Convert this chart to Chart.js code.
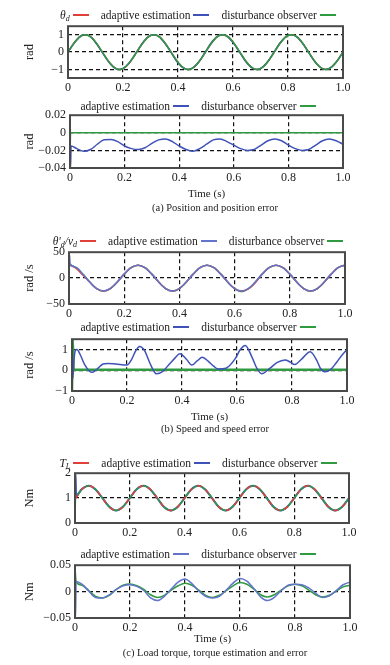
<!DOCTYPE html>
<html>
<head>
<meta charset="utf-8">
<script src="https://cdn.jsdelivr.net/npm/chart.js@4.4.1/dist/chart.umd.min.js"></script>
<style>
  body { margin: 0; background: #fff; width: 390px; height: 665px; position: relative; overflow: hidden;
         font-family: "Liberation Serif", serif; color: #222; }
  canvas { position: absolute; left: 0; }
  .legend { position: absolute; left: 0; width: 396px; display: flex; justify-content: center;
            font-size: 11.5px; line-height: 12px; white-space: nowrap; z-index: 2; }
  .legend .item { display: inline-flex; align-items: center; margin: 0 6px; }
  .legend .ln { display: inline-block; width: 16px; height: 2px; margin-left: 3px; }
  .legend sub { font-size: 8px; line-height: 0; vertical-align: -2px; }
  .caption { position: absolute; left: 0; width: 430px; text-align: center; font-size: 10.5px; line-height: 12px; z-index: 2; }
</style>
</head>
<body>
<canvas id="pos" width="390" height="83" style="top:15px"></canvas>
<canvas id="posErr" width="390" height="101" style="top:104px"></canvas>
<canvas id="spd" width="390" height="83" style="top:241px"></canvas>
<canvas id="spdErr" width="390" height="100" style="top:328px"></canvas>
<canvas id="trq" width="390" height="81" style="top:462px"></canvas>
<canvas id="trqErr" width="390" height="96" style="top:554px"></canvas>
<div class="caption" style="top:202px">(a) Position and position error</div>
<div class="caption" style="top:423px">(b) Speed and speed error</div>
<div class="caption" style="top:647px">(c) Load torque, torque estimation and error</div>

<script>
// time grid (s) for the sine-like plots
var t = [0, 0.002, 0.004, 0.025, 0.05, 0.075, 0.1, 0.125, 0.15, 0.175, 0.2, 0.225, 0.25, 0.275, 0.3, 0.325, 0.35, 0.375, 0.4, 0.425, 0.45, 0.475, 0.5, 0.525, 0.55, 0.575, 0.6, 0.625, 0.65, 0.675, 0.7, 0.725, 0.75, 0.775, 0.8, 0.825, 0.85, 0.875, 0.9, 0.925, 0.95, 0.975, 1.0];

// (a) position (rad)
var posTicks = [-1, 0, 1];
var posRef   = [0.03, 0.06, 0.1, 0.59, 0.96, 0.96, 0.59, 0, -0.59, -0.96, -0.96, -0.59, 0, 0.59, 0.96, 0.96, 0.59, 0, -0.59, -0.96, -0.96, -0.59, 0, 0.59, 0.96, 0.96, 0.59, 0, -0.59, -0.96, -0.96, -0.59, 0, 0.59, 0.96, 0.96, 0.59, 0, -0.59, -0.96, -0.96, -0.59, 0];
var posAdapt = [0.03, 0.06, 0.1, 0.57, 0.96, 0.95, 0.56, -0.03, -0.6, -0.97, -0.95, -0.57, 0.02, 0.62, 0.97, 0.95, 0.56, -0.03, -0.63, -0.97, -0.95, -0.57, 0.02, 0.63, 0.97, 0.94, 0.55, -0.03, -0.62, -0.97, -0.95, -0.57, 0.02, 0.61, 0.97, 0.95, 0.57, -0.02, -0.6, -0.96, -0.95, -0.58, 0];
var posObs   = [0.03, 0.06, 0.1, 0.59, 0.96, 0.96, 0.59, 0, -0.59, -0.96, -0.96, -0.58, 0, 0.59, 0.96, 0.96, 0.59, 0, -0.59, -0.96, -0.96, -0.59, 0, 0.59, 0.96, 0.96, 0.59, 0, -0.59, -0.96, -0.96, -0.59, 0, 0.59, 0.96, 0.96, 0.59, 0, -0.59, -0.96, -0.96, -0.59, 0];

// (a) position error (rad)
var posErrTicks = [-0.04, -0.02, 0, 0.02];
var posErrAdapt = [-0.04, -0.04, -0.015, -0.018, -0.021, -0.019, -0.013, -0.008, -0.0075, -0.01, -0.015, -0.018, -0.019, -0.017, -0.012, -0.008, -0.007, -0.01, -0.015, -0.019, -0.021, -0.018, -0.013, -0.008, -0.007, -0.01, -0.014, -0.018, -0.02, -0.019, -0.014, -0.009, -0.007, -0.009, -0.014, -0.018, -0.02, -0.019, -0.014, -0.009, -0.007, -0.009, -0.013];
var posErrObs   = [-0.04, 0, 0, 0, 0, 0, 0, 0, 0, 0, 0, 0, 0, 0, 0, 0, 0, 0, 0, 0, 0, 0, 0, 0, 0, 0, 0, 0, 0, 0, 0, 0, 0, 0, 0, 0, 0, 0, 0, 0, 0, 0, 0];

// (b) speed (rad/s)
var spdTicks = [-50, 0, 50];
var spdRef   = [25, 25, 24.9, 19, 6, -7.7, -20.2, -25, -20.2, -7.7, 7.7, 20.2, 25, 20.2, 7.7, -7.7, -20.2, -25, -20.2, -7.7, 7.7, 20.2, 25, 20.2, 7.7, -7.7, -20.2, -25, -21, -9, 7.7, 20.2, 25, 20.2, 7.7, -7.7, -20.2, -25, -20.2, -7.7, 7.7, 20.2, 25];
var spdAdapt = [-45, 45, 28, 21, 7.7, -7.7, -20.5, -25, -20, -7.5, 7.7, 20.2, 25, 20.2, 7.7, -7.7, -20.2, -25, -20.2, -7.7, 7.7, 20.2, 25, 20.2, 7.7, -7.7, -20.2, -25, -20.2, -7.7, 7.7, 20.2, 25, 20.2, 7.7, -7.7, -20.2, -25, -20.2, -7.7, 7.7, 20.2, 25];
var spdObs   = [25, 25, 24.9, 20.2, 7.7, -7.7, -20.2, -25, -20.2, -7.7, 7.7, 20.2, 25, 20.2, 7.7, -7.7, -20.2, -25, -20.2, -7.7, 7.7, 20.2, 25, 20.2, 7.7, -7.7, -20.2, -26, -20.2, -7.7, 7.7, 20.2, 25, 20.2, 7.7, -7.7, -20.2, -25, -20.2, -7.7, 7.7, 20.2, 25];

// (b) speed error (rad/s), own time points
var spdErrTicks = [-1, 0, 1];
var tSpd = [0, 0.003, 0.006, 0.012, 0.018, 0.03, 0.045, 0.064, 0.072, 0.09, 0.113, 0.13, 0.16, 0.2, 0.216, 0.232, 0.246, 0.264, 0.283, 0.307, 0.33, 0.356, 0.375, 0.392, 0.417, 0.435, 0.455, 0.474, 0.496, 0.515, 0.532, 0.56, 0.593, 0.612, 0.63, 0.654, 0.672, 0.69, 0.72, 0.745, 0.775, 0.793, 0.81, 0.836, 0.866, 0.89, 0.903, 0.92, 0.94, 0.963, 0.98, 1.0];
var spdErrAdapt = [0, -0.4, 0.3, 0.95, 1.0, 0.75, 0.3, -0.05, -0.1, 0.05, 0.3, 0.33, 0.3, 0.25, 0.5, 0.95, 1.15, 0.95, 0.35, -0.17, -0.05, 0.33, 0.6, 0.8, 0.52, 0.25, 0.45, 0.63, 0.43, 0.2, 0.06, 0.1, 0.55, 1.0, 1.2, 0.65, 0.1, -0.17, 0.1, 0.37, 0.5, 0.4, 0.28, 0.55, 0.9, 0.48, 0.1, -0.07, 0.03, 0.4, 0.7, 1.0];
var spdErrObs   = [-1, 1.5, 0.02, 0.02, 0.02, 0.02, 0.02, 0.02, 0.02, 0.02, 0.02, 0.02, 0.02, 0.02, 0.02, 0.02, 0.02, 0.02, 0.02, 0.02, 0.02, 0.02, 0.02, 0.02, 0.02, 0.02, 0.02, 0.02, 0.02, 0.02, 0.02, 0.02, 0.02, 0.02, 0.02, 0.02, 0.02, 0.02, 0.02, 0.02, 0.02, 0.02, 0.02, 0.02, 0.02, 0.02, 0.02, 0.02, 0.02, 0.02, 0.02, 0.02];

// (c) load torque (Nm)
var trqTicks = [0, 1, 2];
var trqRef   = [1, 1.01, 1.02, 1.354, 1.5, 1.354, 1, 0.646, 0.5, 0.646, 1, 1.354, 1.5, 1.354, 1, 0.646, 0.5, 0.646, 1, 1.354, 1.5, 1.354, 1, 0.646, 0.5, 0.646, 1, 1.354, 1.5, 1.354, 1, 0.646, 0.5, 0.646, 1, 1.354, 1.5, 1.354, 1, 0.646, 0.5, 0.646, 1];
var trqAdapt = [2, 2, 1.1, 1.36, 1.5, 1.35, 1, 0.65, 0.5, 0.65, 1, 1.36, 1.5, 1.35, 1, 0.64, 0.5, 0.65, 1, 1.36, 1.5, 1.35, 1, 0.64, 0.5, 0.65, 1, 1.36, 1.5, 1.35, 1, 0.64, 0.5, 0.65, 1, 1.36, 1.5, 1.35, 1, 0.64, 0.5, 0.65, 1];
var trqObs   = [0, 1.05, 1.06, 1.354, 1.5, 1.354, 1, 0.646, 0.5, 0.646, 1, 1.354, 1.5, 1.354, 1, 0.646, 0.5, 0.646, 1, 1.354, 1.5, 1.354, 1, 0.646, 0.5, 0.646, 1, 1.354, 1.5, 1.354, 1, 0.646, 0.5, 0.646, 1, 1.354, 1.5, 1.354, 1, 0.646, 0.5, 0.646, 1];

// (c) torque error (Nm)
var trqErrTicks = [-0.05, 0, 0.05];
var trqErrAdapt = [-0.05, -0.05, 0.019, 0.014, 0.001, -0.011, -0.012, -0.006, 0.004, 0.011, 0.013, 0.01, 0.002, -0.012, -0.017, -0.009, 0.005, 0.018, 0.024, 0.015, 0.001, -0.009, -0.012, -0.009, 0.003, 0.016, 0.025, 0.02, 0.006, -0.01, -0.017, -0.011, 0.002, 0.012, 0.014, 0.013, 0.007, -0.003, -0.011, -0.008, 0.002, 0.013, 0.018];
var trqErrObs   = [0.05, 0.03, 0.019, 0.012, 0.002, -0.009, -0.012, -0.007, 0.004, 0.012, 0.0145, 0.011, 0.004, -0.006, -0.011, -0.007, 0.003, 0.011, 0.016, 0.012, 0.003, -0.007, -0.011, -0.007, 0.002, 0.011, 0.017, 0.014, 0.005, -0.006, -0.01, -0.006, 0.003, 0.011, 0.014, 0.011, 0.003, -0.006, -0.01, -0.007, 0.001, 0.009, 0.012];

var RED = '#e0403a', BLUE = '#3e52b8', LBLUE = '#6374cc', GREEN = '#2f9a40';
var labelHtml = { 'θd': '<i>θ<sub>d</sub></i>', "θ'd/vd": '<i>θ\'<sub>d</sub>/v<sub>d</sub></i>', 'TL': '<i>T<sub>L</sub></i>' };
var smooth = { cubicInterpolationMode: 'default', tension: 0.4 };

function series(label, xs, ys, color, order, extra) {
  var d = {
    label: label,
    data: xs.map(function (x, i) { return { x: x, y: ys[i] }; }),
    borderColor: color,
    backgroundColor: color,
    order: order
  };
  return Object.assign(d, extra || {});
}

function near(a, b) { return Math.abs(a - b) < 1e-9; }

// grey box round the plot area
var frame = {
  id: 'frame',
  afterDatasetsDraw: function (chart) {
    var a = chart.chartArea, ctx = chart.ctx;
    ctx.save();
    ctx.strokeStyle = '#4a4a4a';
    ctx.lineWidth = 2;
    ctx.strokeRect(a.left, a.top, a.right - a.left, a.bottom - a.top);
    ctx.restore();
  }
};

function plot(id, datasets, y, left, right, xHeight, legendTop) {
  var font = { family: 'Liberation Serif', size: 11 };
  var tickFont = { family: 'Liberation Serif', size: 12 };
  var yTitleFont = { family: 'Liberation Serif', size: 12.5 };
  var chart = new Chart(document.getElementById(id), {
    type: 'line',
    data: { datasets: datasets },
    options: {
      responsive: false,
      animation: false,
      layout: { padding: { left: 18, right: 390 - right, top: 8, bottom: 0 } },
      plugins: { legend: { display: false }, tooltip: { enabled: false } },
      elements: { point: { radius: 0 }, line: { borderWidth: 1.5, cubicInterpolationMode: 'monotone' } },
      scales: {
        x: {
          type: 'linear', min: 0, max: 1,
          ticks: { stepSize: 0.2, padding: 3, color: '#222', font: tickFont, maxRotation: 0,
                   callback: function (v) { return near(v, 0) ? '0' : v.toFixed(1); } },
          grid: { drawTicks: false, lineWidth: 1.2,
                  color: function (c) { var v = c.tick.value; return near(v, 0) || near(v, 1) ? 'transparent' : '#111'; } },
          border: { display: false, dash: [4, 3] },
          title: { display: xHeight > 20, text: 'Time (s)', color: '#222', font: font },
          afterFit: function (s) { s.height = xHeight; }
        },
        y: {
          min: y.min, max: y.max,
          afterBuildTicks: function (s) { s.ticks = y.ticks.map(function (v) { return { value: v }; }); },
          ticks: { padding: 4, color: '#222', font: tickFont,
                   callback: function (v) { return String(+v.toFixed(3)).replace('-', '\u2212'); } },
          grid: { drawTicks: false, lineWidth: 1.2,
                  color: function (c) { var v = c.tick.value; return near(v, y.min) || near(v, y.max) ? 'transparent' : '#111'; } },
          border: { display: false, dash: [4, 3] },
          title: { display: true, text: y.title, color: '#222', font: yTitleFont },
          afterFit: function (s) { s.width = left - 18; }
        }
      }
    },
    plugins: [frame]
  });

  // legend as html: label first, line sample after it
  var box = document.createElement('div');
  box.className = 'legend';
  box.style.top = legendTop + 'px';
  chart.data.datasets.forEach(function (ds) {
    var item = document.createElement('span');
    item.className = 'item';
    item.innerHTML = (labelHtml[ds.label] || ds.label) +
      '<span class="ln" style="background:' + ds.borderColor + '"></span>';
    box.appendChild(item);
  });
  document.body.appendChild(box);
  return chart;
}

plot('pos', [
  series('θd', t, posRef, RED, 2, smooth),
  series('adaptive estimation', t, posAdapt, BLUE, 1, smooth),
  series('disturbance observer', t, posObs, GREEN, 0, smooth)
], { min: -1.5, max: 1.5, ticks: posTicks, title: 'rad' }, 68, 343, 20, 9);

plot('posErr', [
  series('adaptive estimation', t, posErrAdapt, BLUE, 1),
  series('disturbance observer', t, posErrObs, GREEN, 0)
], { min: -0.04, max: 0.02, ticks: posErrTicks, title: 'rad' }, 70, 343, 37, 100);

plot('spd', [
  series("θ'd/vd", t, spdRef, RED, 1),
  series('adaptive estimation', t, spdAdapt, LBLUE, 0),
  series('disturbance observer', t, spdObs, GREEN, 2)
], { min: -50, max: 50, ticks: spdTicks, title: 'rad /s' }, 69, 345, 20, 235);

plot('spdErr', [
  series('adaptive estimation', tSpd, spdErrAdapt, BLUE, 0),
  series('disturbance observer', tSpd, spdErrObs, GREEN, 1, { borderWidth: 2.5 })
], { min: -1, max: 1.5, ticks: spdErrTicks, title: 'rad /s' }, 72, 347, 37, 321);

plot('trq', [
  series('TL', t, trqRef, RED, 0, { borderDash: [5, 5] }),
  series('adaptive estimation', t, trqAdapt, BLUE, 2, { borderWidth: 2 }),
  series('disturbance observer', t, trqObs, GREEN, 1)
], { min: 0, max: 2, ticks: trqTicks, title: 'Nm' }, 75, 349, 20, 457);

plot('trqErr', [
  series('adaptive estimation', t, trqErrAdapt, LBLUE, 0),
  series('disturbance observer', t, trqErrObs, GREEN, 1)
], { min: -0.05, max: 0.05, ticks: trqErrTicks, title: 'Nm' }, 75, 350, 32, 548);
</script>
</body>
</html>
